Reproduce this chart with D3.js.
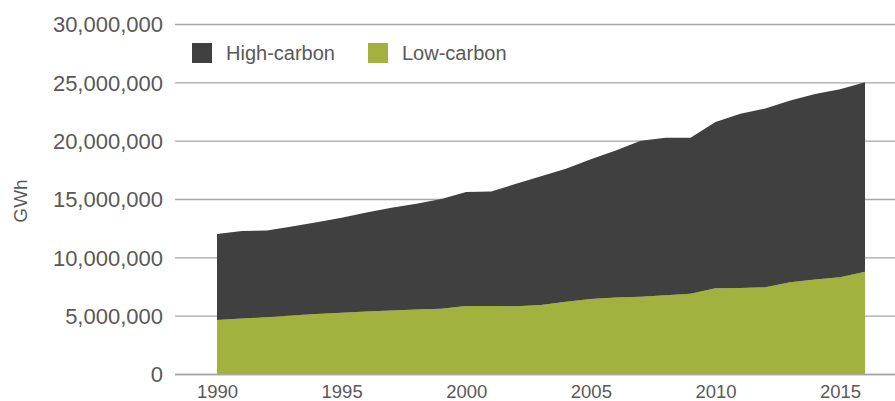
<!DOCTYPE html>
<html>
<head>
<meta charset="utf-8">
<script src="https://cdn.jsdelivr.net/npm/d3@7"></script>
<style>
    body { margin: 0; background: #fff; }
    svg { display: block; font-family: "Liberation Sans", Arial, sans-serif; }
    .axis text { fill: #595959; }
</style>
</head>
<body>
<div class="grafic"></div>
<script>

// годы
let years = [1990, 1991, 1992, 1993, 1994, 1995, 1996, 1997, 1998, 1999,
    2000, 2001, 2002, 2003, 2004, 2005, 2006, 2007, 2008, 2009,
    2010, 2011, 2012, 2013, 2014, 2015, 2016];

// Low-carbon, GWh
let lowCarbon = [4630000, 4750000, 4860000, 5020000, 5150000, 5250000, 5350000, 5450000, 5520000, 5600000,
    5830000, 5820000, 5800000, 5920000, 6200000, 6420000, 6550000, 6630000, 6740000, 6880000,
    7340000, 7370000, 7430000, 7860000, 8100000, 8300000, 8770000];

// High-carbon, GWh
let highCarbon = [7370000, 7510000, 7440000, 7630000, 7850000, 8150000, 8500000, 8800000, 9080000, 9400000,
    9770000, 9830000, 10500000, 11030000, 11400000, 11980000, 12600000, 13370000, 13510000, 13370000,
    14260000, 14930000, 15320000, 15590000, 15900000, 16100000, 16230000];

let yTicks = [0, 5000000, 10000000, 15000000, 20000000, 25000000, 30000000];
let xTicks = [1990, 1995, 2000, 2005, 2010, 2015];

let seriesNames = ["High-carbon", "Low-carbon"];
let colors = { "High-carbon": "#404040", "Low-carbon": "#a3b13f" };

let w = 895;
let h = 401;

let svg = d3.select(".grafic")
    .append("svg")
    .attr("width", w)
    .attr("height", h);

let xScale = d3.scaleLinear()
    .domain([1990, 2016])
    .range([217, 865]);

let yScale = d3.scaleLinear()
    .domain([0, 30000000])
    .range([374, 24]);

// таблица для stack
let table = years.map((y, i) => ({ year: y, "Low-carbon": lowCarbon[i], "High-carbon": highCarbon[i] }));

let stack = d3.stack().keys(["Low-carbon", "High-carbon"]);
let layers = stack(table);

// сетка
svg.append("g")
    .selectAll("line")
    .data(yTicks)
    .enter()
    .append("line")
    .attr("x1", 175)
    .attr("x2", w)
    .attr("y1", d => yScale(d) + 0.5)
    .attr("y2", d => yScale(d) + 0.5)
    .attr("stroke", "#a6a6a6")
    .attr("stroke-width", 1.3);

let area = d3.area()
    .x(d => xScale(d.data.year))
    .y0(d => yScale(d[0]))
    .y1(d => yScale(d[1]));

svg.append("g")
    .selectAll("path")
    .data(layers)
    .enter()
    .append("path")
    .attr("fill", d => colors[d.key])
    .attr("d", area);

// Y axis
let yAxis = d3.axisLeft(yScale)
    .tickValues(yTicks)
    .tickSize(0)
    .tickPadding(0)
    .tickFormat(d3.format(","));

svg.append("g")
    .attr("class", "axis")
    .attr("transform", "translate(163,0)")
    .call(yAxis)
    .call(g => g.select(".domain").remove())
    .selectAll("text")
    .attr("font-size", 22)
    .attr("dy", "0.35em");

// X axis
let xAxis = d3.axisBottom(xScale)
    .tickValues(xTicks)
    .tickSize(0)
    .tickPadding(0)
    .tickFormat(d3.format("d"));

svg.append("g")
    .attr("class", "axis")
    .attr("transform", "translate(0,374)")
    .call(xAxis)
    .call(g => g.select(".domain").remove())
    .selectAll("text")
    .attr("font-size", 18.5)
    .attr("y", 24)
    .attr("dy", 0);

// ось X линия
svg.append("line")
    .attr("x1", 175)
    .attr("x2", w)
    .attr("y1", 374.5)
    .attr("y2", 374.5)
    .attr("stroke", "#a6a6a6")
    .attr("stroke-width", 1.5);

// подпись оси Y
svg.append("text")
    .attr("transform", "translate(27,201) rotate(-90)")
    .attr("text-anchor", "middle")
    .attr("fill", "#595959")
    .attr("font-size", 19)
    .text("GWh");

// легенда
let legendX = [192, 368];
let legend = svg.append("g")
    .selectAll("g")
    .data(seriesNames)
    .enter()
    .append("g")
    .attr("transform", (d, i) => "translate(" + legendX[i] + ",43)");

legend.append("rect")
    .attr("width", 20)
    .attr("height", 20)
    .attr("fill", d => colors[d]);

legend.append("text")
    .attr("x", 34)
    .attr("y", 17)
    .attr("fill", "#595959")
    .attr("font-size", 20)
    .text(d => d);

</script>
</body>
</html>
